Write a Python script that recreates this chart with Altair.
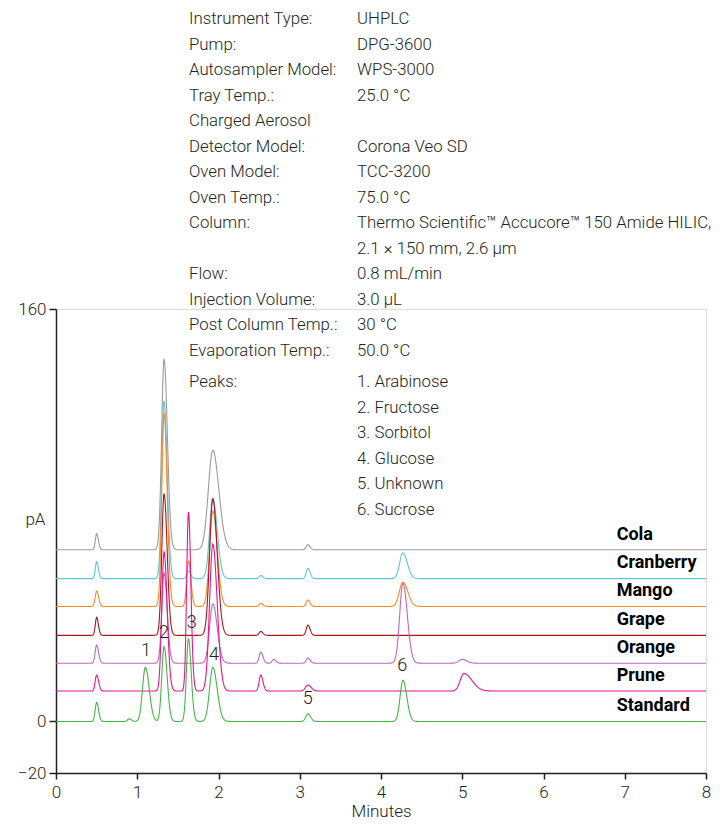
import numpy as np
import pandas as pd
import altair as alt

# ---------------- data ----------------
samples = ["Cola", "Cranberry", "Mango", "Grape", "Orange", "Prune", "Standard"]
colors = ["#9b9b9b", "#5cc6da", "#f58a2a", "#a3191e", "#c866b2", "#e8158b", "#45b549"]
baselines = [66.6, 55.4, 44.6, 33.4, 22.6, 11.8, 0.0]

# peaks: retention time (min), height (pA), width (sigma, min)
cola_t = [0.50, 1.33, 1.93, 3.10]
cola_h = [6.2, 74.0, 38.6, 2.0]
cola_s = [0.016, 0.030, 0.055, 0.02]

cran_t = [0.50, 1.33, 1.63, 1.93, 2.52, 3.10, 4.27]
cran_h = [6.6, 69.0, 3.0, 31.0, 1.2, 4.0, 10.0]
cran_s = [0.016, 0.028, 0.02, 0.040, 0.02, 0.02, 0.040]

mango_t = [0.50, 1.33, 1.63, 1.93, 2.52, 3.10, 4.27]
mango_h = [6.0, 75.0, 17.6, 37.0, 1.2, 2.5, 9.4]
mango_s = [0.018, 0.028, 0.022, 0.040, 0.02, 0.02, 0.045]

grape_t = [0.50, 1.33, 1.93, 2.52, 3.10]
grape_h = [7.0, 55.0, 53.0, 1.5, 4.0]
grape_s = [0.016, 0.028, 0.040, 0.02, 0.02]

orange_t = [0.50, 1.33, 1.93, 2.52, 2.68, 3.10, 4.27, 5.00]
orange_h = [7.0, 35.0, 23.0, 4.3, 1.5, 2.0, 31.0, 1.5]
orange_s = [0.018, 0.028, 0.040, 0.02, 0.02, 0.02, 0.040, 0.04]

prune_t = [0.50, 1.33, 1.63, 1.93, 2.52, 3.10, 5.02]
prune_h = [6.2, 54.0, 69.4, 57.0, 6.2, 2.3, 6.8]
prune_s = [0.018, 0.028, 0.022, 0.040, 0.02, 0.03, 0.045]
prune_tail = [1.35, 1.35, 1.35, 1.35, 1.35, 1.35, 2.2]

std_t = [0.50, 0.90, 1.10, 1.33, 1.63, 1.93, 3.10, 4.27]
std_h = [7.4, 1.0, 21.0, 29.0, 32.0, 21.0, 3.0, 16.0]
std_s = [0.018, 0.02, 0.035, 0.028, 0.025, 0.040, 0.025, 0.035]

peak_sets = [
    (cola_t, cola_h, cola_s, None),
    (cran_t, cran_h, cran_s, None),
    (mango_t, mango_h, mango_s, None),
    (grape_t, grape_h, grape_s, None),
    (orange_t, orange_h, orange_s, None),
    (prune_t, prune_h, prune_s, prune_tail),
    (std_t, std_h, std_s, None),
]

peak_numbers = ["1", "2", "3", "4", "5", "6"]
peak_num_t = [1.108, 1.33, 1.67, 1.945, 3.098, 4.26]
peak_num_v = [27.3, 34.5, 38.1, 25.9, 8.6, 21.4]

info_left = ["Instrument Type:", "Pump:", "Autosampler Model:", "Tray Temp.:",
             "Charged Aerosol", "Detector Model:", "Oven Model:", "Oven Temp.:",
             "Column:", "", "Flow:", "Injection Volume:", "Post Column Temp.:",
             "Evaporation Temp.:"]
info_right = ["UHPLC", "DPG-3600", "WPS-3000", "25.0 °C", "", "Corona Veo SD",
              "TCC-3200", "75.0 °C", "Thermo Scientific™ Accucore™ 150 Amide HILIC,",
              "2.1 × 150 mm, 2.6 µm", "0.8 mL/min", "3.0 µL", "30 °C", "50.0 °C"]
peaks_left = ["Peaks:", "", "", "", "", ""]
peaks_right = ["1. Arabinose", "2. Fructose", "3. Sorbitol", "4. Glucose",
               "5. Unknown", "6. Sucrose"]

x_ticks = [0, 1, 2, 3, 4, 5, 6, 7, 8]
y_ticks = [-20, 0, 160]

# ---------------- build tables ----------------
tgrid = np.round(np.arange(0, 8.0001, 0.005), 3)
rows = []
for name, base, (pt, ph, ps, ptail) in zip(samples, baselines, peak_sets):
    y = np.full_like(tgrid, base, dtype=float)
    tails = ptail if ptail is not None else [1.35] * len(pt)
    for t0, h, s, tl in zip(pt, ph, ps, tails):
        sig = np.where(tgrid < t0, s, s * tl)
        y += h * np.exp(-0.5 * ((tgrid - t0) / sig) ** 2)
    for tt, vv in zip(tgrid, y):
        rows.append({"sample": name, "t": float(tt), "v": round(float(vv), 3)})
df = pd.DataFrame(rows)

lab_df = pd.DataFrame({"sample": samples, "t": [6.9] * len(samples),
                       "v": [b + 5.9 for b in baselines]})
num_df = pd.DataFrame({"txt": peak_numbers, "t": peak_num_t, "v": peak_num_v})

# layout (page pixels)
PAD_TOP, PLOT_H, PLOT_W = 301, 464, 650
PLOT_BOTTOM_ABS = 8 + PAD_TOP + PLOT_H
px_per_unit = PLOT_H / 180.0
def v_of_px(py):
    return (PLOT_BOTTOM_ABS - py) / px_per_unit - 20

info_rows = []
for i, (a, b) in enumerate(zip(info_left, info_right)):
    vv = v_of_px(19 + i * 25.5)
    if a:
        info_rows.append({"txt": a, "t": 1.637, "v": vv})
    if b:
        info_rows.append({"txt": b, "t": 3.705, "v": vv})
for j, (a, b) in enumerate(zip(peaks_left, peaks_right)):
    vv = v_of_px(382 + j * 25.5)
    if a:
        info_rows.append({"txt": a, "t": 1.637, "v": vv})
    if b:
        info_rows.append({"txt": b, "t": 3.705, "v": vv})
info_df = pd.DataFrame(info_rows)

# ---------------- chart ----------------
FONT = "Roboto"
INK = "#231f20"

xscale = alt.Scale(domain=[0, 8], nice=False, zero=False)
yscale = alt.Scale(domain=[-20, 160], nice=False, zero=False)

xaxis = alt.Axis(values=x_ticks, format="d", title="Minutes", grid=False,
                 labelFlush=False, labelOverlap=False,
                 domainColor=INK, domainWidth=1.5, tickColor=INK, tickWidth=1.5,
                 tickSize=6, labelPadding=5, labelFontSize=17, labelColor=INK,
                 labelFont=FONT, labelFontWeight=300,
                 titleFont=FONT, titleFontSize=17, titleFontWeight=300,
                 titleColor=INK, titleBaseline="alphabetic", titleY=43)
yaxis = alt.Axis(values=y_ticks, format="d", title="pA", grid=False,
                 labelFlush=False, labelOverlap=False,
                 domainColor=INK, domainWidth=1.5, tickColor=INK, tickWidth=1.5,
                 tickSize=7, labelPadding=3, labelFontSize=17, labelColor=INK,
                 labelFont=FONT, labelFontWeight=300,
                 titleFont=FONT, titleFontSize=17, titleFontWeight=300,
                 titleColor=INK, titleAngle=0, titleAlign="right",
                 titleBaseline="middle", titleX=-11, titleY=210)

lines = alt.Chart(df).mark_line(strokeWidth=1.1).encode(
    x=alt.X("t:Q", scale=xscale, axis=xaxis),
    y=alt.Y("v:Q", scale=yscale, axis=yaxis),
    color=alt.Color("sample:N", scale=alt.Scale(domain=samples, range=colors),
                    legend=None),
    order=alt.Order("t:Q"),
)

labels = alt.Chart(lab_df).mark_text(align="left", baseline="middle",
                                     font=FONT, fontSize=18, fontWeight="bold",
                                     color="#000000").encode(
    x="t:Q", y="v:Q", text="sample:N")

nums = alt.Chart(num_df).mark_text(align="center", baseline="middle",
                                   font=FONT, fontSize=18, fontWeight=300,
                                   color=INK).encode(
    x="t:Q", y="v:Q", text="txt:N")

info = alt.Chart(info_df).mark_text(align="left", baseline="middle",
                                    font=FONT, fontSize=16.8, fontWeight=300,
                                    color=INK).encode(
    x="t:Q", y="v:Q", text="txt:N")

chart = alt.layer(lines, labels, nums, info).properties(
    width=PLOT_W, height=PLOT_H,
    padding={"left": 48, "top": PAD_TOP, "right": 13, "bottom": 48},
    autosize=alt.AutoSizeParams(type="none"),
).configure_view(stroke=None).configure(font=FONT)

chart.save("out.html", embed_options={"renderer": "svg", "actions": False})
